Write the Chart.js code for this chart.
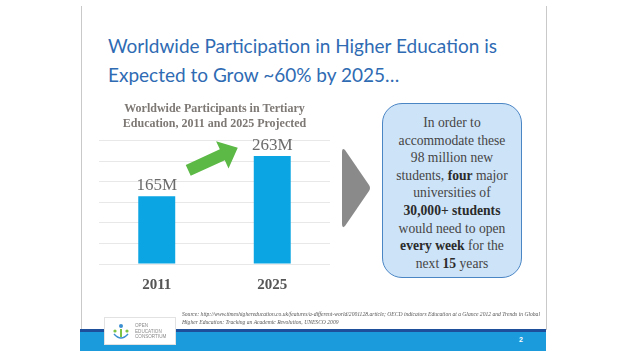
<!DOCTYPE html>
<html>
<head>
<meta charset="utf-8">
<script src="https://cdn.jsdelivr.net/npm/chart.js@4.4.0/dist/chart.umd.min.js"></script>
<style>
  html, body { margin: 0; padding: 0; background: #fff; }
  body { width: 638px; height: 359px; position: relative; overflow: hidden; }
  .edge { position: absolute; top: 6px; width: 1px; height: 324px; background: #c9c9c9; }
  #heading {
    position: absolute; left: 108px; top: 31px; width: 430px;
    font-family: Lato, sans-serif; font-size: 19px; line-height: 29px;
    color: #2f6bb3; white-space: nowrap;
  }
  #chartBox { position: absolute; left: 86px; top: 95px; width: 254px; height: 203px; }
  #note {
    position: absolute; left: 382px; top: 103px; width: 138px; height: 163px;
    background: #cde3f8; border: 1.5px solid #4a85c4; border-radius: 20px;
    font-family: "Liberation Serif", serif; font-size: 13.6px; line-height: 17.6px;
    color: #454545; text-align: center; padding-top: 10px; box-sizing: content-box;
  }
  #note b { color: #2b2b2b; }
  #source {
    position: absolute; left: 182px; top: 310px; width: 360px;
    font-family: "Liberation Serif", serif; font-style: italic; font-size: 5.6px; line-height: 8px;
    color: #555;
  }
  #footDark { position: absolute; left: 80px; top: 329px; width: 466px; height: 3px; background: #1d4f9a; }
  #footBar { position: absolute; left: 80px; top: 332px; width: 466px; height: 19px; background: #1b9bdc; }
  #pageNo { position: absolute; left: 519px; top: 336px; font: bold 7px "Liberation Sans", sans-serif; color: #fff; }
  #logo {
    position: absolute; left: 104px; top: 317px; width: 72px; height: 28px;
    background: #fff; border: 1px solid #e2e2e2; box-sizing: border-box;
  }
  #logo span {
    position: absolute; left: 30px; top: 5px; font: 4.6px "Liberation Sans", sans-serif;
    line-height: 5.6px; color: #8a8a8a;
  }
</style>
</head>
<body>
<div class="edge" style="left:81px"></div>
<div class="edge" style="left:546px"></div>

<div id="heading">Worldwide Participation in Higher Education is<br>Expected to Grow ~60% by 2025…</div>

<div id="chartBox"><canvas id="partChart"></canvas></div>

<svg style="position:absolute;left:0;top:0" width="638" height="359">
  <path d="M345 150 Q342 147 342 152 L342 224 Q342 229 345 226 L369 191 Q371 188 369 185 Z" fill="#8a8a8a"/>
</svg>

<div id="note">In order to<br>accommodate these<br>98 million new<br>students, <b>four</b> major<br>universities of<br><b>30,000+ students</b><br>would need to open<br><b>every week</b> for the<br>next <b>15</b> years</div>

<div id="source">Source: http://www.timeshighereducation.co.uk/features/a-different-world/2001128.article; OECD indicators Education at a Glance 2012 and Trends in Global Higher Education: Tracking an Academic Revolution, UNESCO 2009</div>

<div id="footDark"></div>
<div id="footBar"></div>
<div id="pageNo">2</div>
<div id="logo">
  <svg style="position:absolute;left:6px;top:4px" width="20" height="20">
    <circle cx="10" cy="4" r="2" fill="#3a8fd0"/>
    <circle cx="4" cy="9" r="1.6" fill="#7cc243"/>
    <circle cx="16" cy="9" r="1.6" fill="#7cc243"/>
    <path d="M3 12 Q10 20 17 12" stroke="#3a8fd0" stroke-width="1.5" fill="none"/>
    <rect x="9" y="7" width="2" height="8" fill="#7cc243"/>
  </svg>
  <span>OPEN<br>EDUCATION<br>CONSORTIUM</span>
</div>

<script>
const years = ['2011', '2025'];
const participants = [165, 263];
const valueLabels = ['165M', '263M'];
const yMax = 300;
const yStep = 50;

// labels above bars + the green growth arrow
const barExtras = {
  id: 'barExtras',
  afterDatasetsDraw(chart) {
    const ctx = chart.ctx;
    const bars = chart.getDatasetMeta(0).data;
    const y = chart.scales.y;
    ctx.save();
    ctx.font = '17px "Liberation Serif", serif';
    ctx.fillStyle = '#6b6b6b';
    ctx.textAlign = 'center';
    ctx.textBaseline = 'bottom';
    bars.forEach((b, i) => ctx.fillText(valueLabels[i], b.x, b.y - 2));

    // arrow from first bar towards second
    const x0 = bars[0].x + bars[0].width / 2 + 13;
    const y0 = y.getPixelForValue(228);
    const x1 = bars[1].x - bars[1].width / 2 - 16;
    const y1 = y.getPixelForValue(283);
    const ang = Math.atan2(y1 - y0, x1 - x0);
    const len = Math.hypot(x1 - x0, y1 - y0);
    ctx.translate(x0, y0);
    ctx.rotate(ang);
    ctx.beginPath();
    ctx.moveTo(0, -6);
    ctx.lineTo(len - 17, -6);
    ctx.lineTo(len - 17, -15);
    ctx.lineTo(len, 0);
    ctx.lineTo(len - 17, 15);
    ctx.lineTo(len - 17, 6);
    ctx.lineTo(0, 6);
    ctx.closePath();
    ctx.fillStyle = '#5cb946';
    ctx.fill();
    ctx.restore();
  }
};

const partChart = new Chart(document.getElementById('partChart'), {
  type: 'bar',
  data: {
    labels: years,
    datasets: [{
      label: 'Participants',
      data: participants,
      backgroundColor: '#0aa5e2',
      categoryPercentage: 0.64,
      barPercentage: 0.5
    }]
  },
  options: {
    responsive: true,
    maintainAspectRatio: false,
    animation: false,
    layout: { padding: { left: 13, right: 10, top: 0, bottom: 0 } },
    plugins: {
      legend: { display: false },
      tooltip: { enabled: false },
      title: {
        display: true,
        text: ['Worldwide Participants in Tertiary', 'Education, 2011 and 2025 Projected'],
        color: '#7d7874',
        font: { family: '"Liberation Serif", serif', size: 12, weight: 'bold', lineHeight: 1.2 },
        padding: { top: 7, bottom: 10 }
      }
    },
    scales: {
      x: {
        grid: { display: false },
        border: { display: false },
        ticks: {
          color: '#555',
          font: { family: '"Liberation Serif", serif', size: 15, weight: 'bold' },
          padding: 4
        }
      },
      y: {
        min: 0,
        max: yMax,
        ticks: { display: false, stepSize: yStep },
        grid: { color: '#e8e8e8', drawTicks: false },
        border: { display: false }
      }
    }
  },
  plugins: [barExtras]
});
</script>
</body>
</html>
